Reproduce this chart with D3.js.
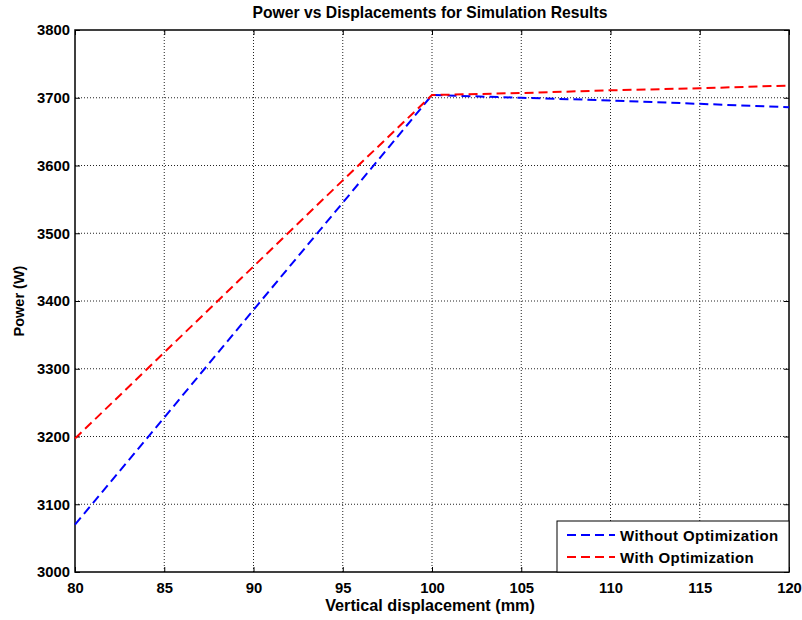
<!DOCTYPE html>
<html>
<head>
<meta charset="utf-8">
<script src="https://cdn.jsdelivr.net/npm/d3@7"></script>
<style>
  html, body { margin: 0; padding: 0; background: #fff; }
  svg { display: block; font-family: "Liberation Sans", Arial, sans-serif; }
</style>
</head>
<body>
<svg id="chart" width="802" height="620"></svg>
<script>
// Displacement samples (mm) and measured power (W)
const displacement = [80, 85, 90, 95, 100, 105, 110, 115, 120];
const powerWithout = [3070, 3228, 3387, 3545, 3704, 3700, 3696, 3691, 3686];
const powerWith    = [3197, 3324, 3451, 3578, 3704, 3707, 3711, 3714, 3718];
const xTicks = [80, 85, 90, 95, 100, 105, 110, 115, 120];
const yTicks = [3000, 3100, 3200, 3300, 3400, 3500, 3600, 3700, 3800];
const seriesNames = ["Without Optimization", "With Optimization"];
const seriesColors = ["#0000ff", "#ff0000"];

const svg = d3.select("#chart");
const m = { left: 75, right: 13, top: 30, bottom: 48 };
const W = 802, H = 620;
const x = d3.scaleLinear().domain([80, 120]).range([m.left, W - m.right]);
const y = d3.scaleLinear().domain([3000, 3800]).range([H - m.bottom, m.top]);

// grid
const grid = svg.append("g");
grid.selectAll(".gx").data(xTicks.slice(1, -1)).join("line")
  .attr("x1", d => x(d)).attr("x2", d => x(d))
  .attr("y1", y(3000)).attr("y2", y(3800))
  .attr("stroke", "#222").attr("stroke-width", 1).attr("stroke-dasharray", "1,2");
grid.selectAll(".gy").data(yTicks.slice(1, -1)).join("line")
  .attr("y1", d => y(d)).attr("y2", d => y(d))
  .attr("x1", x(80)).attr("x2", x(120))
  .attr("stroke", "#222").attr("stroke-width", 1).attr("stroke-dasharray", "1,2");

// axes with inward ticks
const fmt = d3.format("d");
const styleAxis = g => {
  g.select(".domain").remove();
  g.selectAll("text").attr("font-size", 14.8).attr("font-weight", "bold").attr("fill", "#000")
    .attr("font-family", "'Liberation Sans', Arial, sans-serif");
  g.selectAll("line").attr("stroke", "#000");
};
svg.append("g").attr("transform", `translate(0,${y(3000)})`)
  .call(d3.axisBottom(x).tickValues(xTicks).tickFormat(fmt).tickSize(-5).tickPadding(10))
  .call(styleAxis);
svg.append("g").attr("transform", `translate(0,${y(3800)})`)
  .call(d3.axisTop(x).tickValues(xTicks).tickFormat("").tickSize(-5))
  .call(styleAxis);
svg.append("g").attr("transform", `translate(${x(80)},0)`)
  .call(d3.axisLeft(y).tickValues(yTicks).tickFormat(fmt).tickSize(-5).tickPadding(5))
  .call(styleAxis);
svg.append("g").attr("transform", `translate(${x(120)},0)`)
  .call(d3.axisRight(y).tickValues(yTicks).tickFormat("").tickSize(-5))
  .call(styleAxis);

// plot frame
svg.append("rect")
  .attr("x", x(80)).attr("y", y(3800))
  .attr("width", x(120) - x(80)).attr("height", y(3000) - y(3800))
  .attr("fill", "none").attr("stroke", "#000").attr("stroke-width", 1.5);

// series
const line = d3.line().x(d => x(d[0])).y(d => y(d[1]));
[powerWithout, powerWith].forEach((vals, i) => {
  svg.append("path")
    .datum(displacement.map((d, k) => [d, vals[k]]))
    .attr("d", line)
    .attr("fill", "none")
    .attr("stroke", seriesColors[i])
    .attr("stroke-width", 2)
    .attr("stroke-dasharray", "9,5");
});

// title and axis labels
const cx = (x(80) + x(120)) / 2 - 2;
svg.append("text").attr("x", cx).attr("y", 18)
  .attr("text-anchor", "middle").attr("font-size", 15.7).attr("font-weight", "bold")
  .text("Power vs Displacements for Simulation Results");
svg.append("text").attr("x", cx).attr("y", 611)
  .attr("text-anchor", "middle").attr("font-size", 16.2).attr("font-weight", "bold")
  .text("Vertical displacement (mm)");
svg.append("text")
  .attr("transform", `translate(24,${(y(3000) + y(3800)) / 2}) rotate(-90)`)
  .attr("text-anchor", "middle").attr("font-size", 14.5).attr("font-weight", "bold")
  .text("Power (W)");

// legend
const lg = svg.append("g");
const lx = 557, ly = 521, lw = x(120) - lx, lh = y(3000) - ly;
lg.append("rect").attr("x", lx).attr("y", ly).attr("width", lw).attr("height", lh)
  .attr("fill", "#fff").attr("stroke", "#000").attr("stroke-width", 1);
seriesNames.forEach((name, i) => {
  const cy = ly + 14 + i * 22;
  lg.append("line").attr("x1", lx + 10).attr("x2", lx + 58)
    .attr("y1", cy).attr("y2", cy)
    .attr("stroke", seriesColors[i]).attr("stroke-width", 2).attr("stroke-dasharray", "9,5");
  lg.append("text").attr("x", lx + 63).attr("y", cy + 6)
    .attr("font-size", 15).attr("font-weight", "bold").attr("letter-spacing", 0.4)
    .text(name);
});
</script>
</body>
</html>
